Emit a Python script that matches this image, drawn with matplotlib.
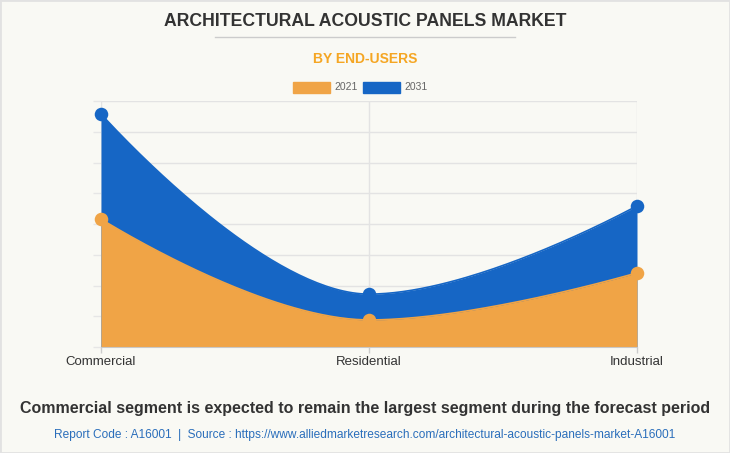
import numpy as np
import matplotlib
matplotlib.use("Agg")
import matplotlib.pyplot as plt
from matplotlib.patches import Rectangle

categories = ["Commercial", "Residential", "Industrial"]
values_2021 = [4.16, 0.88, 2.41]
values_2031 = [7.58, 1.72, 4.59]
series_names = ["2021", "2031"]
color_2021 = "#f0a446"
color_2031 = "#1666c5"
y_max = 8
y_ticks = list(range(0, 9))

BG = "#f9f9f4"


def spline_curve(xs, ys, smoothing=1.5, n=80):
    """Highcharts-style spline: bezier segments with smoothed control points."""
    npts = len(xs)
    left = [None] * npts
    right = [None] * npts
    denom = smoothing + 1
    for i in range(npts):
        px, py = xs[i], ys[i]
        if 0 < i < npts - 1:
            lx, ly = xs[i - 1], ys[i - 1]
            nx, ny = xs[i + 1], ys[i + 1]
            lcx = (smoothing * px + lx) / denom
            lcy = (smoothing * py + ly) / denom
            rcx = (smoothing * px + nx) / denom
            rcy = (smoothing * py + ny) / denom
            corr = 0
            if rcx != lcx:
                corr = (rcy - lcy) * (rcx - px) / (rcx - lcx) + py - rcy
            lcy += corr
            rcy += corr
            if lcy > ly and lcy > py:
                lcy = max(ly, py)
                rcy = 2 * py - lcy
            elif lcy < ly and lcy < py:
                lcy = min(ly, py)
                rcy = 2 * py - lcy
            if rcy > ny and rcy > py:
                rcy = max(ny, py)
                lcy = 2 * py - rcy
            elif rcy < ny and rcy < py:
                rcy = min(ny, py)
                lcy = 2 * py - rcy
            left[i] = (lcx, lcy)
            right[i] = (rcx, rcy)
        else:
            left[i] = (px, py)
            right[i] = (px, py)
    X, Y = [], []
    t = np.linspace(0, 1, n)
    for i in range(1, npts):
        p0 = np.array([xs[i - 1], ys[i - 1]])
        p1 = np.array(right[i - 1])
        p2 = np.array(left[i])
        p3 = np.array([xs[i], ys[i]])
        b = ((1 - t) ** 3)[:, None] * p0 + (3 * (1 - t) ** 2 * t)[:, None] * p1 \
            + (3 * (1 - t) * t ** 2)[:, None] * p2 + (t ** 3)[:, None] * p3
        if i > 1:
            b = b[1:]
        X.extend(b[:, 0])
        Y.extend(b[:, 1])
    return np.array(X), np.array(Y)


W, H = 730, 453
fig = plt.figure(figsize=(W / 100, H / 100), dpi=100, facecolor=BG)
plt.rcParams['font.family'] = ['Liberation Sans', 'DejaVu Sans']

ax = fig.add_axes([101 / W, 1 - 347 / H, (637 - 101) / W, (347 - 101) / H])
ax.set_facecolor(BG)

xpos = np.arange(len(categories))
for vals, col, z in [(values_2031, color_2031, 2), (values_2021, color_2021, 3)]:
    sx, sy = spline_curve(list(xpos.astype(float)), vals)
    ax.fill_between(sx, 0, sy, color=col, lw=0, zorder=z)
    ax.plot(sx, sy, color=col, lw=1.2, zorder=z, solid_capstyle='round')
    ax.scatter(xpos, vals, s=95, color=col, zorder=z + 0.5, linewidths=0, clip_on=False)

ax.set_xlim(0, 2)
ax.set_ylim(0, y_max)
ax.set_yticks(y_ticks)
ax.set_yticklabels([])
ax.set_xticks(xpos)
ax.set_xticklabels(categories, fontsize=9.5, color="#333333")
ax.tick_params(axis='y', length=6, color="#e6e6e6", width=1)
ax.tick_params(axis='x', length=4.5, color="#cccccc", width=1, pad=2)
ax.grid(True, color="#e3e3e3", lw=1, zorder=0)
ax.set_axisbelow(True)
for s in ["top", "right", "left"]:
    ax.spines[s].set_visible(False)
ax.spines["bottom"].set_color("#c8c8c8")
ax.spines["bottom"].set_zorder(5)

# Titles
fig.text(0.5, 1 - 21 / H, "ARCHITECTURAL ACOUSTIC PANELS MARKET", ha="center", va="center",
         fontsize=12.7, fontweight="bold", color="#333333")
fig.add_artist(plt.Line2D([215 / W, 515 / W], [1 - 37 / H, 1 - 37 / H], color="#cccccc", lw=1))
fig.text(0.5, 1 - 59 / H, "BY END-USERS", ha="center", va="center",
         fontsize=10, fontweight="bold", color="#f5a623")

# Legend
leg_y = 1 - 87.5 / H
for x0, x1, col, name in [(293, 330, color_2021, series_names[0]), (363, 400, color_2031, series_names[1])]:
    fig.add_artist(Rectangle((x0 / W, 1 - 93 / H), (x1 - x0) / W, 11 / H, color=col,
                             transform=fig.transFigure))
    fig.text((x1 + 4) / W, leg_y, name, ha="left", va="center", fontsize=7.5, color="#666666")

fig.text(0.5, 1 - 408 / H,
         "Commercial segment is expected to remain the largest segment during the forecast period",
         ha="center", va="center", fontsize=11.5, fontweight="bold", color="#333333")
fig.text(0.5, 1 - 435 / H,
         "Report Code : A16001  |  Source : https://www.alliedmarketresearch.com/architectural-acoustic-panels-market-A16001",
         ha="center", va="center", fontsize=8.6, color="#2a6ebb")

# border
fig.add_artist(Rectangle((0, 0), 1, 1, transform=fig.transFigure, fill=False,
                         edgecolor="#e2e2e2", lw=2))

fig.savefig("out.png", dpi=100, facecolor=BG)
